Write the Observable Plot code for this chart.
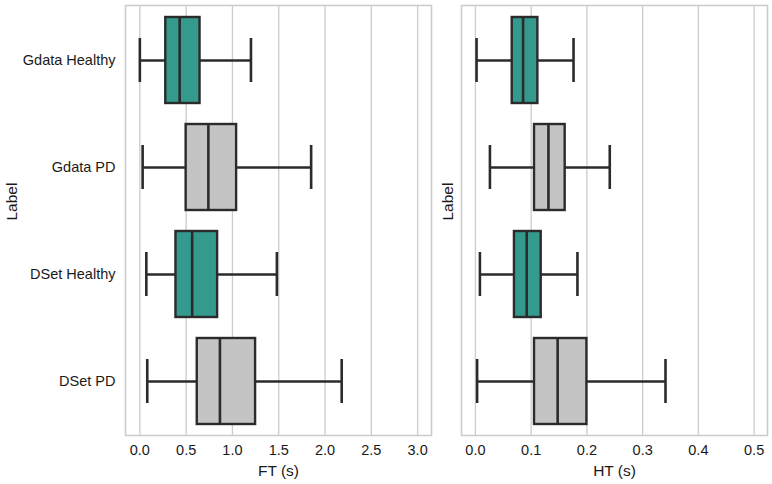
<!DOCTYPE html>
<html>
<head>
<meta charset="utf-8">
<script src="https://cdn.jsdelivr.net/npm/d3@7"></script>
<script src="https://cdn.jsdelivr.net/npm/@observablehq/plot@0.6"></script>
<style>
  html, body { margin: 0; padding: 0; background: #fff; }
  #wrap { display: flex; flex-direction: row; width: 772px; height: 484px; }
  #wrap svg { display: block; font-family: "Liberation Sans", Arial, sans-serif; }
</style>
</head>
<body>
<div id="wrap"></div>
<script>
const labels = ["Gdata Healthy", "Gdata PD", "DSet Healthy", "DSet PD"];
const groups = ["Healthy", "PD", "Healthy", "PD"];

const ftLo  = [0.00, 0.03, 0.07, 0.08];
const ftQ1  = [0.28, 0.50, 0.39, 0.62];
const ftMed = [0.43, 0.74, 0.565, 0.865];
const ftQ3  = [0.65, 1.045, 0.84, 1.25];
const ftHi  = [1.20, 1.85, 1.48, 2.18];

const htLo  = [0.002, 0.026, 0.008, 0.003];
const htQ1  = [0.066, 0.106, 0.070, 0.106];
const htMed = [0.0855, 0.131, 0.092, 0.1475];
const htQ3  = [0.112, 0.161, 0.118, 0.200];
const htHi  = [0.176, 0.241, 0.183, 0.341];

const ftTicks = [0, 0.5, 1.0, 1.5, 2.0, 2.5, 3.0];
const htTicks = [0, 0.1, 0.2, 0.3, 0.4, 0.5];

const groupNames = ["Healthy", "PD"];
const groupColors = ["#359a8e", "#c4c4c4"];

function rows(lo, q1, med, q3, hi) {
  return labels.map((l, i) => ({label: l, group: groups[i], lo: lo[i], q1: q1[i], med: med[i], q3: q3[i], hi: hi[i]}));
}

const edge = "#2b2b2b";
const textColor = "#1a1a1a";
const fs = 14.5;
const fsTitle = 15.5;

function panel({data, width, marginLeft, marginRight, domain, ticks, xLabel, showY}) {
  return Plot.plot({
    width, height: 484,
    marginTop: 5, marginBottom: 49, marginLeft, marginRight,
    style: {fontSize: fs + "px", fontFamily: "Liberation Sans, Arial, sans-serif", color: textColor, background: "#fff"},
    x: {domain, ticks, label: null},
    y: {domain: labels, paddingInner: 0.2, paddingOuter: 0.1, label: null},
    color: {domain: groupNames, range: groupColors},
    marks: [
      Plot.gridX(ticks, {stroke: "#cccccc", strokeOpacity: 1, strokeWidth: 1.3}),
      Plot.frame({stroke: "#cccccc", strokeWidth: 1.6}),
      Plot.ruleY(data, {y: "label", x1: "lo", x2: "hi", stroke: edge, strokeWidth: 2.4}),
      Plot.tickX(data, {x: "lo", y: "label", stroke: edge, strokeWidth: 2.6, insetTop: 21, insetBottom: 21}),
      Plot.tickX(data, {x: "hi", y: "label", stroke: edge, strokeWidth: 2.6, insetTop: 21, insetBottom: 21}),
      Plot.barX(data, {y: "label", x1: "q1", x2: "q3", fill: "group", stroke: edge, strokeWidth: 2.4}),
      Plot.tickX(data, {x: "med", y: "label", stroke: edge, strokeWidth: 2.6}),
      Plot.axisX(ticks, {tickSize: 0, tickPadding: 9, fontSize: fs, tickFormat: d3.format(".1f"), label: null, fill: textColor}),
      Plot.axisY({tickSize: 0, tickPadding: 10, fontSize: fs, tickFormat: showY ? (d => d) : (() => ""), label: null, fill: textColor}),
      Plot.text([xLabel], {frameAnchor: "bottom", dy: 36, fontSize: fsTitle, fill: textColor, lineAnchor: "middle"}),
      Plot.text(["Label"], {frameAnchor: "left", dx: showY ? -113 : -13, rotate: -90, fontSize: fsTitle, fill: textColor, lineAnchor: "middle"})
    ]
  });
}

const wrap = document.getElementById("wrap");
wrap.appendChild(panel({
  data: rows(ftLo, ftQ1, ftMed, ftQ3, ftHi),
  width: 440, marginLeft: 125, marginRight: 9,
  domain: [-0.155, 3.15], ticks: ftTicks, xLabel: "FT (s)", showY: true
}));
wrap.appendChild(panel({
  data: rows(htLo, htQ1, htMed, htQ3, htHi),
  width: 332, marginLeft: 21, marginRight: 5,
  domain: [-0.025, 0.524], ticks: htTicks, xLabel: "HT (s)", showY: false
}));
</script>
</body>
</html>
